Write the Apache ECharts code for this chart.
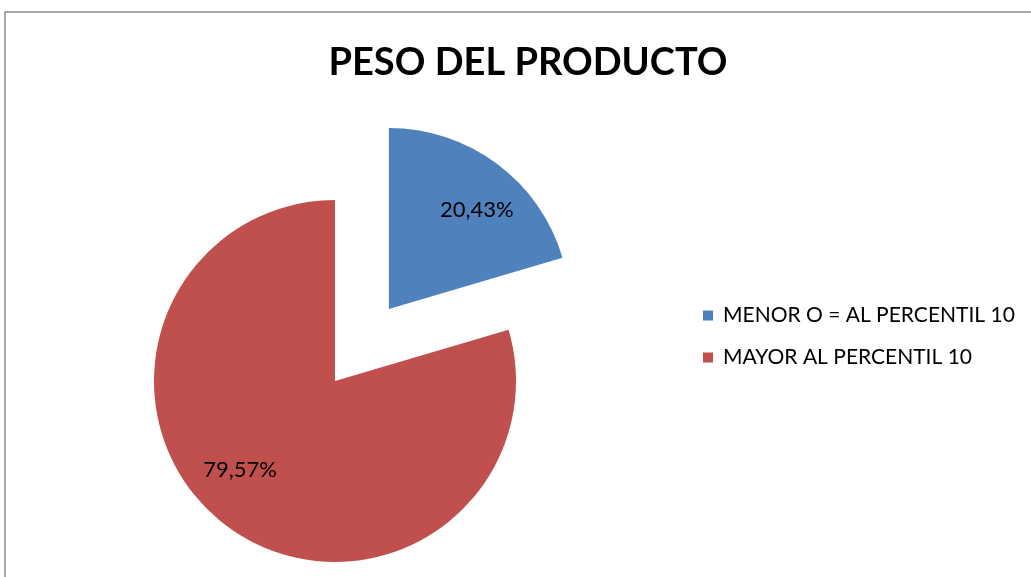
<!DOCTYPE html>
<html>
<head>
<meta charset="utf-8">
<script src="https://cdn.jsdelivr.net/npm/echarts@6/dist/echarts.min.js"></script>
<style>
  html, body { margin: 0; padding: 0; background: #ffffff; }
  #chart { width: 1031px; height: 577px; }
</style>
</head>
<body>
<div id="chart"></div>
<script>
// Categories and their shares (percent)
const categories = ['MENOR O = AL PERCENTIL 10', 'MAYOR AL PERCENTIL 10'];
const shares = [20.43, 79.57];
const colors = ['#4F81BD', '#C0504D'];
const chartTitle = 'PESO DEL PRODUCTO';

// Label nudges keep the percentages near the outer part of each slice
const labelOffsets = [[32, -24], [-39, 14]];

const fmtPct = v => v.toFixed(2).replace('.', ',') + '%';

const chart = echarts.init(document.getElementById('chart'), null, { renderer: 'canvas' });

chart.setOption({
  animation: false,
  backgroundColor: '#ffffff',
  title: {
    text: chartTitle,
    left: 523,
    top: 39,
    textAlign: 'center',
    textStyle: {
      fontFamily: 'Lato',
      fontWeight: 'bold',
      fontSize: 38,
      color: '#000000'
    }
  },
  legend: {
    orient: 'vertical',
    left: 703,
    top: 305,
    padding: 0,
    itemWidth: 10,
    itemHeight: 10,
    itemGap: 21,
    icon: 'rect',
    selectedMode: false,
    textStyle: {
      fontFamily: 'Lato',
      fontSize: 21,
      lineHeight: 21,
      color: '#000000',
      padding: [0, 0, 0, 5]
    },
    data: categories
  },
  graphic: [
    {
      type: 'rect',
      silent: true,
      z: -1,
      shape: { x: 5, y: 12, width: 1200, height: 800 },
      style: { fill: 'none', stroke: '#8c8c8c', lineWidth: 1.5 }
    }
  ],
  series: [
    {
      type: 'pie',
      center: [335, 381],
      radius: 181,
      startAngle: 90,
      clockwise: true,
      selectedMode: true,
      selectedOffset: 90,
      avoidLabelOverlap: false,
      emphasis: { disabled: true },
      label: {
        show: true,
        position: 'inside',
        fontFamily: 'Lato',
        fontSize: 22,
        color: '#000000',
        formatter: p => fmtPct(p.value)
      },
      labelLine: { show: false },
      data: categories.map((name, i) => ({
        name: name,
        value: shares[i],
        selected: i === 0,
        itemStyle: { color: colors[i] },
        label: { offset: labelOffsets[i] },
        select: { label: { offset: labelOffsets[i] } }
      }))
    }
  ]
});
</script>
</body>
</html>
